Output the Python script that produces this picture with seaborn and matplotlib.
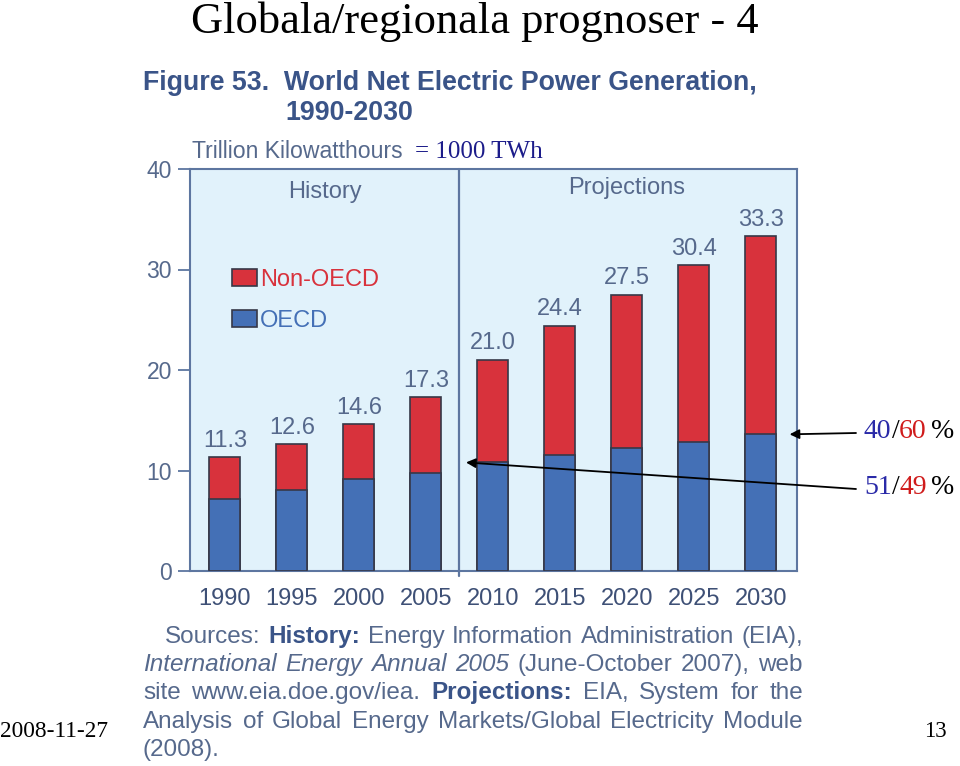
import matplotlib
matplotlib.use('Agg')
import matplotlib.pyplot as plt
import seaborn as sns
import pandas as pd
from matplotlib.patches import Patch

# ---- data ----
years = ['1990', '1995', '2000', '2005', '2010', '2015', '2020', '2025', '2030']
totals = [11.3, 12.6, 14.6, 17.3, 21.0, 24.4, 27.5, 30.4, 33.3]
oecd = [7.2, 8.1, 9.2, 9.8, 10.8, 11.5, 12.2, 12.8, 13.6]
non_oecd = [round(t - o, 1) for t, o in zip(totals, oecd)]
yticks = [0, 10, 20, 30, 40]
series_names = ['Non-OECD', 'OECD']

RED = '#d8323c'
BLUE = '#4470b6'
BG = '#e1f2fb'
EDGE = '#363848'
AXC = '#5d76a0'
TXT = '#56698c'
CAP = '#3a5488'
XT = '#3e5076'

sns.set_theme(style='white')
plt.rcParams['font.family'] = ['Liberation Sans', 'DejaVu Sans']

W, H = 960, 766
fig = plt.figure(figsize=(W / 100, H / 100), dpi=100)
ax = fig.add_axes([190 / W, (H - 571) / H, 607 / W, 402 / H])
ax.set_facecolor(BG)

df = pd.DataFrame({'year': years, 'total': totals, 'oecd': oecd, 'non_oecd': non_oecd})
sns.barplot(data=df, x='year', y='total', color=RED, width=0.46, edgecolor=EDGE,
            linewidth=1.2, saturation=1, ax=ax, zorder=2)
sns.barplot(data=df, x='year', y='oecd', color=BLUE, width=0.46, edgecolor=EDGE,
            linewidth=1.2, saturation=1, ax=ax, zorder=3)

ax.set_xlim(-0.52, len(years) - 1 + 0.54)
ax.set_ylim(0, 40)
ax.set_yticks(yticks)
ax.set_xlabel('')
ax.set_ylabel('')
for s in ax.spines.values():
    s.set_color(AXC)
    s.set_linewidth(1.5)
ax.tick_params(axis='y', left=True, length=9, width=1.3, color=AXC, labelcolor=TXT,
               labelsize=16.5, pad=4)
ax.tick_params(axis='x', bottom=False, length=0, labelsize=17, labelcolor=XT, pad=12)

# divider between history and projections
ax.axvline(3.5, ymin=-0.012, ymax=1, color=AXC, lw=1.6, clip_on=False, zorder=4)
ax.text(1.5, 37.7, 'History', ha='center', va='center', fontsize=17, color=TXT)
ax.text(6.0, 38.1, 'Projections', ha='center', va='center', fontsize=17, color=TXT)

# value labels
for i, t in enumerate(totals):
    ax.annotate(f'{t:.1f}', (i, t), xytext=(0, 4), textcoords='offset points',
                ha='center', va='bottom', fontsize=17, color=TXT)

# legend
handles = [Patch(facecolor=RED, edgecolor=EDGE, lw=1.2), Patch(facecolor=BLUE, edgecolor=EDGE, lw=1.2)]
ax.legend(handles, series_names, loc='upper left', bbox_to_anchor=(0.034, 0.805),
          frameon=False, fontsize=17, handlelength=1.05, handleheight=0.72,
          handletextpad=0.15, labelspacing=0.8, labelcolor=[RED, BLUE])

# overlay in pixel coordinates
ov = fig.add_axes([0, 0, 1, 1])
ov.set_xlim(0, W)
ov.set_ylim(H, 0)
ov.axis('off')

serif = 'Liberation Serif'
ov.text(475, 33, 'Globala/regionala prognoser - 4', ha='center', va='baseline',
        fontsize=32, family=serif, color='black')

ov.text(143, 90, 'Figure 53.  World Net Electric Power Generation,', ha='left', va='baseline',
        fontsize=19.3, fontweight='bold', color=CAP)
ov.text(285, 120, '1990-2030', ha='left', va='baseline', fontsize=19.3, fontweight='bold', color=CAP)
t1 = ov.text(192, 158, 'Trillion Kilowatthours', ha='left', va='baseline', fontsize=16.6, color=TXT)
ov.annotate('= 1000 TWh', xy=(1, 0), xycoords=t1, xytext=(9, 0), textcoords='offset points',
            ha='left', va='bottom', fontsize=18, family=serif, color='#1c1c8a')

# justified source note
renderer = fig.canvas.get_renderer()
B = dict(fontweight='bold', color=CAP)
I = dict(style='italic')
N = {}


def justify(x0, x1, y, words, just=True):
    arts = []
    for w, kw in words:
        base = dict(fontsize=17.5, color=TXT)
        base.update(kw)
        arts.append(ov.text(0, y, w, ha='left', va='baseline', **base))
    widths = [a.get_window_extent(renderer).width for a in arts]
    if just and len(arts) > 1:
        gap = (x1 - x0 - sum(widths)) / (len(arts) - 1)
    else:
        gap = 5.5
    x = x0
    for a, wd in zip(arts, widths):
        a.set_x(x)
        x += wd + gap


justify(165, 803, 643, [('Sources:', N), ('History:', B), ('Energy', N), ('Information', N),
                        ('Administration', N), ('(EIA),', N)])
justify(143, 803, 671, [('International', I), ('Energy', I), ('Annual', I), ('2005', I),
                        ('(June-October', N), ('2007),', N), ('web', N)])
justify(143, 803, 699, [('site', N), ('www.eia.doe.gov/iea.', N), ('Projections:', B), ('EIA,', N),
                        ('System', N), ('for', N), ('the', N)])
justify(143, 803, 728, [('Analysis', N), ('of', N), ('Global', N), ('Energy', N),
                        ('Markets/Global', N), ('Electricity', N), ('Module', N)])
justify(143, 803, 756, [('(2008).', N)], just=False)


# percentage annotations with arrows
def pct(x, y, a, b):
    t = ov.text(x, y, a, ha='left', va='center', fontsize=20, family=serif, color='#2a2aa8')
    t = ov.annotate('/', xy=(1, 0), xycoords=t, ha='left', va='bottom', fontsize=20,
                    family=serif, color='black')
    t = ov.annotate(b, xy=(1, 0), xycoords=t, ha='left', va='bottom', fontsize=20,
                    family=serif, color='#d01c1c')
    ov.annotate('%', xy=(1, 0), xycoords=t, xytext=(3, 0), textcoords='offset points',
                ha='left', va='bottom', fontsize=20, family=serif, color='black')


pct(864, 432, '40', '60')
pct(864, 487, '51', '49')

arrow = dict(arrowstyle='-|>', color='black', lw=1.3, mutation_scale=14, shrinkA=0, shrinkB=0)
ov.annotate('', xy=(8.43, oecd[8]), xycoords=ax.transData, xytext=(856, 433),
            textcoords='data', arrowprops=arrow)
ov.annotate('', xy=(3.6, oecd[4]), xycoords=ax.transData, xytext=(856, 489),
            textcoords='data', arrowprops=arrow)

ov.text(0, 737, '2008-11-27', ha='left', va='baseline', fontsize=16.8, family=serif, color='black')
ov.text(947, 737, '13', ha='right', va='baseline', fontsize=16.5, family=serif, color='black')

fig.savefig('out.png', dpi=100)
